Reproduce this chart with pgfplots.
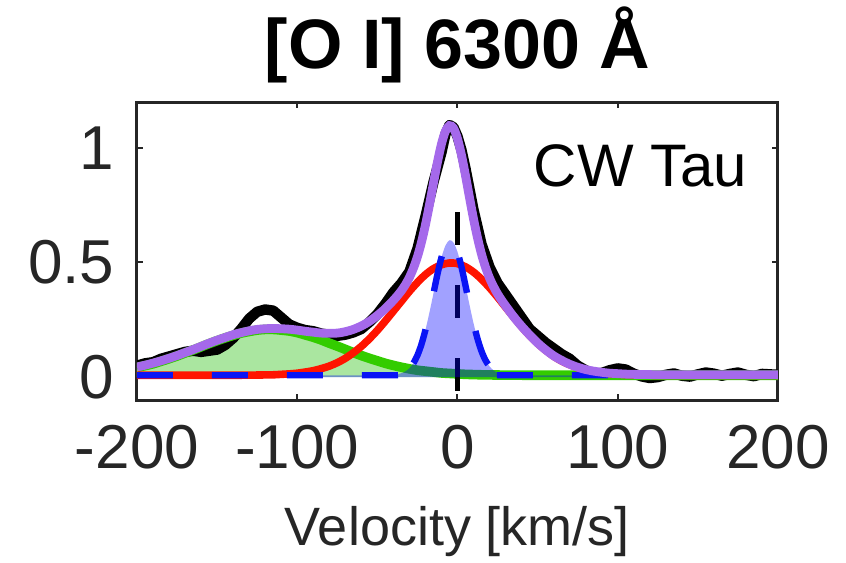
\documentclass[border=0pt]{standalone}
\usepackage{fontspec}
\setmainfont{Liberation Sans}
\usepackage{pgfplots}
\usepackage{pgfplotstable}
\pgfplotsset{compat=1.18}
\definecolor{gfill}{RGB}{170,230,160}
\definecolor{gline}{RGB}{51,204,0}
\definecolor{purp}{RGB}{165,105,235}
\definecolor{redc}{RGB}{255,20,0}
\definecolor{bluec}{RGB}{10,20,245}
\definecolor{axc}{RGB}{38,38,38}

\pgfplotstableread{
x y
-200 0.042
-195 0.050
-190 0.058
-185 0.069
-180 0.080
-175 0.092
-170 0.105
-165 0.118
-160 0.132
-155 0.146
-150 0.159
-145 0.171
-140 0.182
-135 0.192
-130 0.199
-125 0.205
-120 0.208
-115 0.208
-110 0.205
-105 0.201
-100 0.194
-95 0.184
-90 0.174
-85 0.162
-80 0.148
-75 0.135
-70 0.121
-65 0.107
-60 0.094
-55 0.082
-50 0.071
-45 0.060
-40 0.051
-35 0.043
-30 0.036
-25 0.030
-20 0.026
-15 0.022
-10 0.018
-5 0.016
0 0.014
5 0.012
10 0.011
15 0.010
20 0.0096
25 0.009
30 0.0088
40 0.0083
60 0.008
200 0.008
}\greentab

\pgfplotstableread{
x y
-200 0.008
-140 0.008
-135 0.0083
-130 0.0085
-125 0.009
-120 0.0095
-115 0.010
-110 0.012
-105 0.014
-100 0.017
-95 0.022
-90 0.028
-85 0.037
-80 0.048
-75 0.063
-70 0.082
-65 0.106
-60 0.134
-55 0.167
-50 0.204
-45 0.245
-40 0.288
-35 0.331
-30 0.374
-25 0.413
-20 0.447
-15 0.473
-10 0.490
-5 0.498
0 0.495
5 0.481
10 0.458
15 0.427
20 0.390
25 0.349
30 0.305
35 0.262
40 0.220
45 0.181
50 0.147
55 0.117
60 0.091
65 0.070
70 0.054
75 0.041
80 0.031
85 0.024
90 0.019
95 0.015
100 0.013
105 0.011
110 0.010
115 0.009
120 0.0085
130 0.008
200 0.008
}\redtab

\pgfplotstableread{
x y
-200 0.008
-45 0.008
-40 0.010
-37.5 0.012
-35 0.017
-32.5 0.025
-30 0.039
-27.5 0.061
-25 0.095
-22.5 0.143
-20 0.206
-17.5 0.282
-15 0.365
-12.5 0.449
-10 0.522
-7.5 0.574
-5 0.597
-2.5 0.587
0 0.546
2.5 0.480
5 0.399
7.5 0.315
10 0.235
12.5 0.167
15 0.113
17.5 0.073
20 0.047
22.5 0.029
25 0.019
27.5 0.014
30 0.011
32.5 0.009
35 0.008
200 0.008
}\bluetab

\pgfplotstableread{
x y
-200 0.044
-195 0.052
-190 0.061
-185 0.071
-180 0.082
-175 0.094
-170 0.107
-165 0.120
-160 0.134
-155 0.148
-150 0.161
-145 0.173
-140 0.185
-135 0.194
-130 0.202
-125 0.208
-120 0.211
-115 0.212
-110 0.211
-105 0.209
-100 0.205
-95 0.200
-90 0.196
-85 0.192
-80 0.191
-75 0.192
-70 0.198
-65 0.208
-60 0.223
-55 0.243
-50 0.269
-45 0.299
-40 0.335
-37.5 0.355
-35 0.377
-32.5 0.403
-30 0.435
-27.5 0.475
-25 0.525
-22.5 0.588
-20 0.664
-17.5 0.752
-15 0.846
-12.5 0.938
-10 1.017
-7.5 1.073
-5 1.097
-2.5 1.086
0 1.040
2.5 0.968
5 0.879
7.5 0.783
10 0.690
12.5 0.607
15 0.536
17.5 0.479
20 0.432
22.5 0.395
25 0.363
27.5 0.336
30 0.311
35 0.264
40 0.222
45 0.184
50 0.149
55 0.119
60 0.093
65 0.073
70 0.056
75 0.043
80 0.033
85 0.026
90 0.021
95 0.017
100 0.015
105 0.013
110 0.012
120 0.011
130 0.010
200 0.010
}\purptab

\pgfplotstableread{
x y
-200 0.050
-195 0.060
-190 0.065
-185 0.080
-180 0.090
-175 0.100
-170 0.110
-165 0.115
-160 0.110
-155 0.115
-150 0.120
-145 0.140
-140 0.170
-135 0.210
-130 0.255
-125 0.285
-120 0.295
-115 0.290
-110 0.260
-105 0.230
-100 0.215
-95 0.205
-90 0.200
-85 0.190
-80 0.185
-75 0.180
-70 0.185
-65 0.195
-60 0.210
-55 0.240
-50 0.275
-45 0.320
-40 0.370
-35 0.410
-30 0.460
-25 0.560
-20 0.700
-15 0.850
-10 0.980
-7.5 1.060
-5 1.100
-2.5 1.090
0 1.050
2.5 0.990
5 0.910
7.5 0.820
10 0.730
15 0.580
20 0.480
25 0.410
30 0.360
35 0.310
40 0.260
45 0.210
50 0.180
55 0.150
60 0.125
65 0.100
70 0.080
75 0.050
80 0.030
85 0.015
90 0.018
95 0.030
100 0.038
105 0.033
110 0.015
115 0.003
120 -0.004
125 0.000
130 0.010
135 0.016
140 0.006
145 0.002
150 0.012
155 0.020
160 0.015
165 0.006
170 0.014
175 0.020
180 0.010
185 0.004
190 0.014
195 0.012
200 0.010
}\datatab

\begin{document}
\begin{tikzpicture}
\begin{axis}[
  scale only axis,
  width=160.25pt, height=74.5pt,
  xmin=-200, xmax=200, ymin=-0.1, ymax=1.2,
  xtick={-200,-100,0,100,200},
  ytick={0,0.5,1},
  tick align=inside,
  major tick length=1.5pt,
  axis line style={line width=0.75pt, axc},
  every tick/.style={axc, line width=0.5pt},
  /pgf/number format/assume math mode=true,
  tick label style={font=\fontsize{15.5}{15.5}\selectfont, text=axc},
  xticklabel style={anchor=base, inner sep=0pt, yshift=-17pt},
  yticklabel style={anchor=east, inner sep=0pt, xshift=-5.5pt},
  title={[O I] 6300 Å},
  title style={at={(axis description cs:0.5,1)}, anchor=base, yshift=2.5pt, inner sep=0pt,
    font=\fontsize{17.5}{17.5}\selectfont\bfseries},
  xlabel={Velocity [km/s]},
  xlabel style={at={(axis description cs:0.5,0)}, anchor=base, yshift=-36.25pt, inner sep=0pt,
    font=\fontsize{13.5}{13.5}\selectfont, text=axc},
]
\addplot[draw=none, fill=gfill, smooth] table {\greentab} \closedcycle;
\addplot[black, line width=2.6pt, line join=round] table {\datatab};
\addplot[gline, line width=2.4pt, smooth] table {\greentab};
\addplot[black, line width=1.3pt, dash pattern=on 8.25pt off 10pt] coordinates {(0,0.72) (0,-0.1)};
\addplot[draw=none, fill=blue, fill opacity=0.37, smooth] table {\bluetab} \closedcycle;
\addplot[redc, line width=1.9pt, smooth] table {\redtab};
\addplot[bluec, line width=1.6pt, dash pattern=on 9pt off 9.75pt, smooth] table {\bluetab};
\addplot[purp, line width=2.2pt, smooth] table {\purptab};
\node[anchor=base east, inner sep=0pt, font=\fontsize{15}{15}\selectfont, text=black]
  at (rel axis cs:0.953,0.715) {CW Tau};
\end{axis}
\pgfresetboundingbox
\path (current axis.south west) ++(-34.25pt,-40.5pt) rectangle ++(211.5pt,140.5pt);
\end{tikzpicture}
\end{document}
